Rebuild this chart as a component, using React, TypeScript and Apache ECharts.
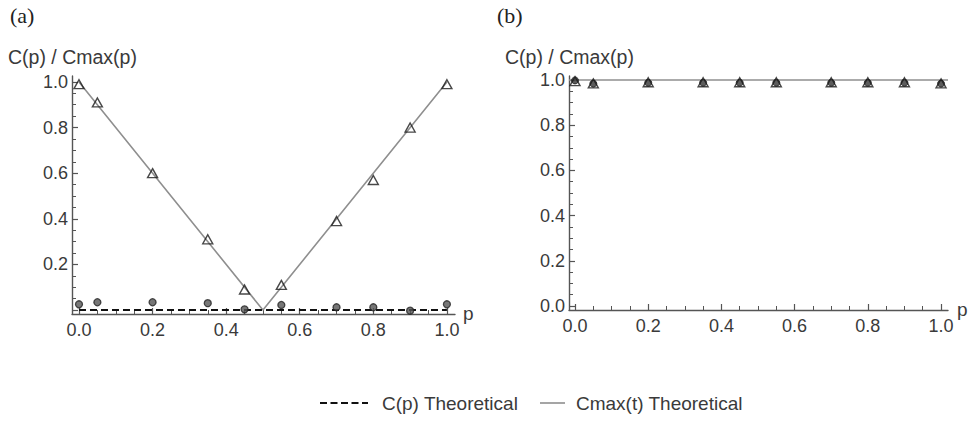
import React, { useEffect, useRef } from "react";
import * as echarts from "echarts";

// ---- data ----
const pValues = [0, 0.05, 0.2, 0.35, 0.45, 0.55, 0.7, 0.8, 0.9, 1.0];
const cmaxMeasuredA = [0.99, 0.91, 0.6, 0.31, 0.09, 0.11, 0.39, 0.57, 0.8, 0.99];
const cMeasuredA = [0.025, 0.034, 0.034, 0.03, 0.003, 0.022, 0.012, 0.012, -0.003, 0.025];
const cmaxMeasuredB = [0.995, 0.985, 0.99, 0.99, 0.99, 0.99, 0.99, 0.99, 0.99, 0.985];
const cMeasuredB = [0.998, 0.984, 0.988, 0.988, 0.988, 0.988, 0.988, 0.988, 0.988, 0.984];
const theoryPA = [0, 0.5, 1];
const cmaxTheoryA = [1, 0, 1];
const cTheoryPA = [0, 1];
const cTheoryA = [0, 0];
const cmaxTheoryB = [1, 1];
const majorTicks = [0, 0.2, 0.4, 0.6, 0.8, 1.0];
const minorTicks = [0.05, 0.1, 0.15, 0.25, 0.3, 0.35, 0.45, 0.5, 0.55, 0.65, 0.7, 0.75, 0.85, 0.9, 0.95];
const yLabelsA = [0.2, 0.4, 0.6, 0.8, 1.0];
const yLabelsB = [0, 0.2, 0.4, 0.6, 0.8, 1.0];
const xLabels = [0, 0.2, 0.4, 0.6, 0.8, 1.0];

const FONT = "'Liberation Sans', Arial, sans-serif";
const SERIF = "'Liberation Serif', 'Times New Roman', serif";
const TXT = "#3a3a3a";
const AXIS = "#555";
const GRAYLINE = "#8f8f8f";

const rangesA = { xMin: -0.019, xMax: 1.022, yMin: -0.0175, yMax: 1.026 };
const rangesB = { xMin: -0.0164, xMax: 1.019, yMin: -0.0177, yMax: 1.0177 };
const rectA = { left: 72, top: 76, width: 383, height: 238 };
const rectB = { left: 569, top: 76, width: 379, height: 234 };

function mainAxis(dim: "x" | "y", grid: number, min: number, max: number, labels: number[]) {
  return {
    type: "value",
    gridIndex: grid,
    min,
    max,
    position: dim === "x" ? "bottom" : "left",
    splitLine: { show: false },
    axisLine: { show: true, onZero: false, lineStyle: { color: AXIS, width: 1.4 } },
    axisTick: { show: true, inside: true, length: 6, customValues: majorTicks, lineStyle: { color: AXIS, width: 1.2 } },
    axisLabel: {
      show: true,
      customValues: labels,
      formatter: (v: number) => v.toFixed(1),
      fontFamily: FONT,
      fontSize: 18,
      color: TXT,
      margin: dim === "x" ? 7 : 4,
    },
  };
}
function minorAxis(dim: "x" | "y", grid: number, min: number, max: number) {
  return {
    type: "value",
    gridIndex: grid,
    min,
    max,
    position: dim === "x" ? "bottom" : "left",
    splitLine: { show: false },
    axisLine: { show: false, onZero: false },
    axisTick: { show: true, inside: true, length: 4, customValues: minorTicks, lineStyle: { color: AXIS, width: 1 } },
    axisLabel: { show: false },
  };
}

const zip = (xs: number[], ys: number[]) => xs.map((x, i) => [x, ys[i]]);

export default function App() {
  const ref = useRef<HTMLDivElement>(null);
  useEffect(() => {
    if (!ref.current) return;
    const chart = echarts.init(ref.current, undefined, { renderer: "svg" });
    const triStyle = { color: "rgba(255,255,255,0)", borderColor: "#1a1a1a", borderWidth: 1.4 };
    const circStyle = { color: "#555", borderColor: "#222", borderWidth: 1.3 };
    chart.setOption({
      animation: false,
      grid: [rectA, rectB, rectA, rectB],
      xAxis: [
        mainAxis("x", 0, rangesA.xMin, rangesA.xMax, xLabels),
        mainAxis("x", 1, rangesB.xMin, rangesB.xMax, xLabels),
        minorAxis("x", 2, rangesA.xMin, rangesA.xMax),
        minorAxis("x", 3, rangesB.xMin, rangesB.xMax),
      ],
      yAxis: [
        mainAxis("y", 0, rangesA.yMin, rangesA.yMax, yLabelsA),
        mainAxis("y", 1, rangesB.yMin, rangesB.yMax, yLabelsB),
        minorAxis("y", 2, rangesA.yMin, rangesA.yMax),
        minorAxis("y", 3, rangesB.yMin, rangesB.yMax),
      ],
      series: [
        {
          name: "C(p) Theoretical",
          type: "line",
          xAxisIndex: 0,
          yAxisIndex: 0,
          data: zip(cTheoryPA, cTheoryA),
          showSymbol: false,
          lineStyle: { color: "#111", width: 2, type: [7, 4] },
          z: 3,
        },
        {
          name: "Cmax(t) Theoretical",
          type: "line",
          xAxisIndex: 0,
          yAxisIndex: 0,
          data: zip(theoryPA, cmaxTheoryA),
          showSymbol: false,
          lineStyle: { color: GRAYLINE, width: 1.6 },
          z: 2,
        },
        {
          type: "scatter",
          xAxisIndex: 0,
          yAxisIndex: 0,
          data: zip(pValues, cMeasuredA),
          symbol: "circle",
          symbolSize: 7,
          itemStyle: circStyle,
          z: 4,
        },
        {
          type: "scatter",
          xAxisIndex: 0,
          yAxisIndex: 0,
          data: zip(pValues, cmaxMeasuredA),
          symbol: "triangle",
          symbolSize: [10, 9],
          itemStyle: triStyle,
          z: 5,
        },
        {
          type: "line",
          xAxisIndex: 1,
          yAxisIndex: 1,
          data: zip([rangesB.xMin, rangesB.xMax], cmaxTheoryB),
          showSymbol: false,
          lineStyle: { color: GRAYLINE, width: 1.6 },
          z: 2,
        },
        {
          type: "scatter",
          xAxisIndex: 1,
          yAxisIndex: 1,
          data: zip(pValues, cMeasuredB),
          symbol: "circle",
          symbolSize: 7,
          itemStyle: { color: "#333", borderColor: "#222", borderWidth: 1 },
          z: 4,
        },
        {
          type: "scatter",
          xAxisIndex: 1,
          yAxisIndex: 1,
          data: zip(pValues, cmaxMeasuredB),
          symbol: "triangle",
          symbolSize: [10, 9],
          itemStyle: triStyle,
          z: 5,
        },
      ],
      graphic: [
        { type: "text", left: 10, top: 4, style: { text: "(a)", font: `22px ${SERIF}`, fill: "#222" } },
        { type: "text", left: 497, top: 4, style: { text: "(b)", font: `22px ${SERIF}`, fill: "#222" } },
        { type: "text", x: 8, y: 57, style: { text: "C(p) / Cmax(p)", font: `19.5px ${FONT}`, fill: TXT, verticalAlign: "middle" } },
        { type: "text", x: 505, y: 57, style: { text: "C(p) / Cmax(p)", font: `19.5px ${FONT}`, fill: TXT, verticalAlign: "middle" } },
        { type: "text", x: 463, y: 313, style: { text: "p", font: `19px ${FONT}`, fill: TXT, verticalAlign: "middle" } },
        { type: "text", x: 957, y: 309, style: { text: "p", font: `19px ${FONT}`, fill: TXT, verticalAlign: "middle" } },
        // legend
        { type: "line", shape: { x1: 320, y1: 403, x2: 368, y2: 403 }, style: { stroke: "#111", lineWidth: 2, lineDash: [7, 3.5] } },
        { type: "text", x: 382, y: 403, style: { text: "C(p) Theoretical", font: `19px ${FONT}`, fill: TXT, verticalAlign: "middle" } },
        { type: "line", shape: { x1: 540, y1: 403, x2: 565, y2: 403 }, style: { stroke: GRAYLINE, lineWidth: 1.6 } },
        { type: "text", x: 576, y: 403, style: { text: "Cmax(t) Theoretical", font: `19px ${FONT}`, fill: TXT, verticalAlign: "middle" } },
      ],
    });
    return () => chart.dispose();
  }, []);
  return (
    <div
      ref={ref}
      style={{ position: "absolute", left: 0, top: 0, width: 970, height: 421, background: "#fff" }}
    />
  );
}
